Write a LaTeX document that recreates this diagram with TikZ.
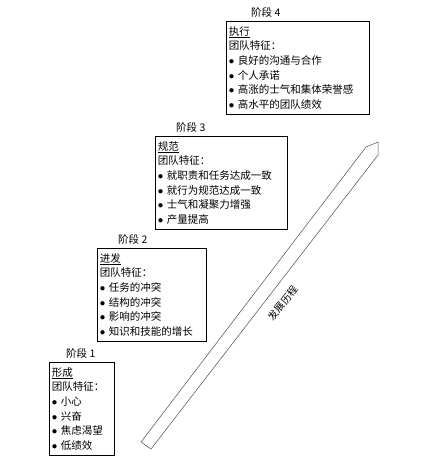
\documentclass[tikz,border=0pt]{standalone}
\usepackage{fontspec}
\newfontfamily\cjk{Noto Sans CJK SC}
\usetikzlibrary{positioning}
\newcommand{\trait}{$\bullet$\ }

\begin{document}
\begin{tikzpicture}[x=1pt, y=-1pt, thin,
	stagebox/.style={rectangle,draw,line width=0.6pt,anchor=north west,align=left,inner xsep=2.5pt,inner ysep=2pt,minimum height=93pt,font=\cjk\fontsize{10.5}{14.7}\selectfont},
	stagetitle/.style={font=\cjk\fontsize{10.5}{12}\selectfont,inner sep=1pt},
	growth/.style={draw=black!70,line width=0.5pt,line join=round}]
	\useasboundingbox (0, 0) rectangle (426, 471);
	% the four stages
	\node[stagebox,text width=60pt] (form) at (49, 362) {\underline{形成}\\团队特征：\\\trait 小心\\\trait 兴奋\\\trait 焦虑渴望\\\trait 低绩效};
	\node[stagetitle,above right=2pt and 16pt of form.north west] (formtitle) {阶段 1};
	\node[stagebox,text width=104pt] (storm) at (97, 248) {\underline{进发}\\团队特征：\\\trait 任务的冲突\\\trait 结构的冲突\\\trait 影响的冲突\\\trait 知识和技能的增长};
	\node[stagetitle,above right=2pt and 20pt of storm.north west] (stormtitle) {阶段 2};
	\node[stagebox,text width=127pt] (norm) at (155, 136) {\underline{规范}\\团队特征：\\\trait 就职责和任务达成一致\\\trait 就行为规范达成一致\\\trait 士气和凝聚力增强\\\trait 产量提高};
	\node[stagetitle,above right=2pt and 20pt of norm.north west] (normtitle) {阶段 3};
	\node[stagebox,text width=138pt] (perform) at (226, 21) {\underline{执行}\\团队特征：\\\trait 良好的沟通与合作\\\trait 个人承诺\\\trait 高涨的士气和集体荣誉感\\\trait 高水平的团队绩效};
	\node[stagetitle,above right=2pt and 24pt of perform.north west] (performtitle) {阶段 4};
	% the long arrow
	\coordinate (tailleft) at (141, 442);
	\coordinate (tailright) at (151, 449);
	\coordinate (headleft) at (366, 147);
	\coordinate (headtip) at (378, 142);
	\coordinate (headright) at (378, 155);
	\draw[growth] (tailleft) -- (headleft) -- (headtip) -- (headright) -- (tailright) -- cycle;
	\node[rotate=52.5,font=\cjk\fontsize{10}{12}\selectfont,inner sep=0pt] (course) at (283, 303) {发展历程};
\end{tikzpicture}
\end{document}
